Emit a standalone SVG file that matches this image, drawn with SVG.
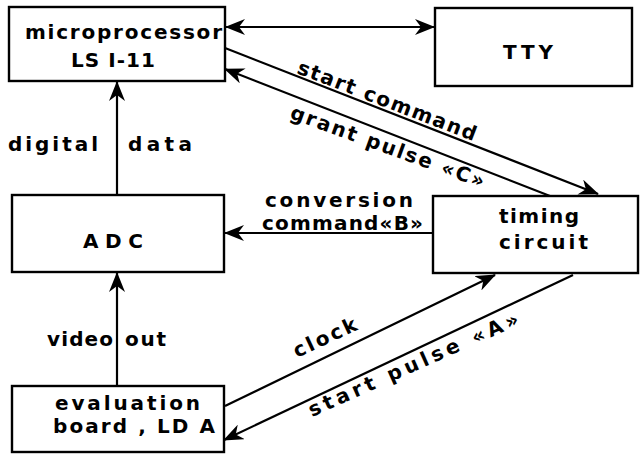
<svg xmlns="http://www.w3.org/2000/svg" width="642" height="464" viewBox="0 0 642 464">
<style>
.box{fill:#fff;stroke:#000;stroke-width:2.4}
.ln{fill:none;stroke:#000;stroke-width:2.2}
text{font-family:"DejaVu Sans","Liberation Sans",sans-serif;font-weight:bold;font-size:20px;fill:#000}
</style>
<defs>
<marker id="ah" viewBox="0 0 20 16" refX="19" refY="8" markerWidth="20" markerHeight="16" markerUnits="userSpaceOnUse" orient="auto-start-reverse">
<path d="M0,0 L20,8 L0,16 L6,8 z" fill="#000"/>
</marker>
</defs>
<rect width="642" height="464" fill="#fff"/>
<g id="connectors">
<line class="ln" x1="226" y1="27" x2="434" y2="27" marker-start="url(#ah)" marker-end="url(#ah)"/>
<line class="ln" x1="117" y1="195" x2="117" y2="82" marker-end="url(#ah)"/>
<line class="ln" x1="117" y1="386" x2="117" y2="273" marker-end="url(#ah)"/>
<line class="ln" x1="433" y1="233" x2="225" y2="233" marker-end="url(#ah)"/>
<line class="ln" x1="225" y1="48" x2="598" y2="194" marker-end="url(#ah)"/>
<line class="ln" x1="550" y1="196" x2="225" y2="69" marker-end="url(#ah)"/>
<line class="ln" x1="225" y1="406" x2="495" y2="275" marker-end="url(#ah)"/>
<line class="ln" x1="573" y1="275" x2="224" y2="440" marker-end="url(#ah)"/>
<text x="8" y="151" textLength="90" lengthAdjust="spacing">digital</text>
<text x="128" y="151" textLength="64" lengthAdjust="spacing">data</text>
<text x="47" y="346" textLength="66" lengthAdjust="spacing">video</text>
<text x="125" y="346" textLength="41" lengthAdjust="spacing">out</text>
<text x="265" y="207" textLength="148" lengthAdjust="spacing">conversion</text>
<text x="262" y="230" textLength="161" lengthAdjust="spacing">command«B»</text>
<text x="296" y="73" textLength="190" lengthAdjust="spacing" transform="rotate(21 296 73)">start command</text>
<text x="289" y="118" textLength="205" lengthAdjust="spacing" transform="rotate(20 289 118)">grant pulse «C»</text>
<text x="297" y="358" textLength="68" lengthAdjust="spacing" transform="rotate(-25 297 358)">clock</text>
<text x="312" y="417" textLength="228" lengthAdjust="spacing" transform="rotate(-24 312 417)">start  pulse  «A»</text>
</g>
<g id="microprocessor">
<rect class="box" x="9" y="7" width="216" height="74"/>
<text x="25" y="39" textLength="197" lengthAdjust="spacing">microprocessor</text>
<text x="71" y="67" textLength="84" lengthAdjust="spacing">LS I-11</text>
</g>
<g id="tty">
<rect class="box" x="435" y="8" width="197" height="78"/>
<text x="503" y="59" textLength="50" lengthAdjust="spacing">TTY</text>
</g>
<g id="adc">
<rect class="box" x="12" y="195" width="212" height="77"/>
<text x="83" y="248" textLength="60" lengthAdjust="spacing">ADC</text>
</g>
<g id="timing">
<rect class="box" x="433" y="196" width="205" height="77"/>
<text x="499" y="223" textLength="80" lengthAdjust="spacing">timing</text>
<text x="499" y="249" textLength="89" lengthAdjust="spacing">circuit</text>
</g>
<g id="evaluation">
<rect class="box" x="12" y="386" width="212" height="66"/>
<text x="55" y="410" textLength="145" lengthAdjust="spacing">evaluation</text>
<text x="53" y="433" textLength="162" lengthAdjust="spacing">board , LD A</text>
</g>
</svg>
